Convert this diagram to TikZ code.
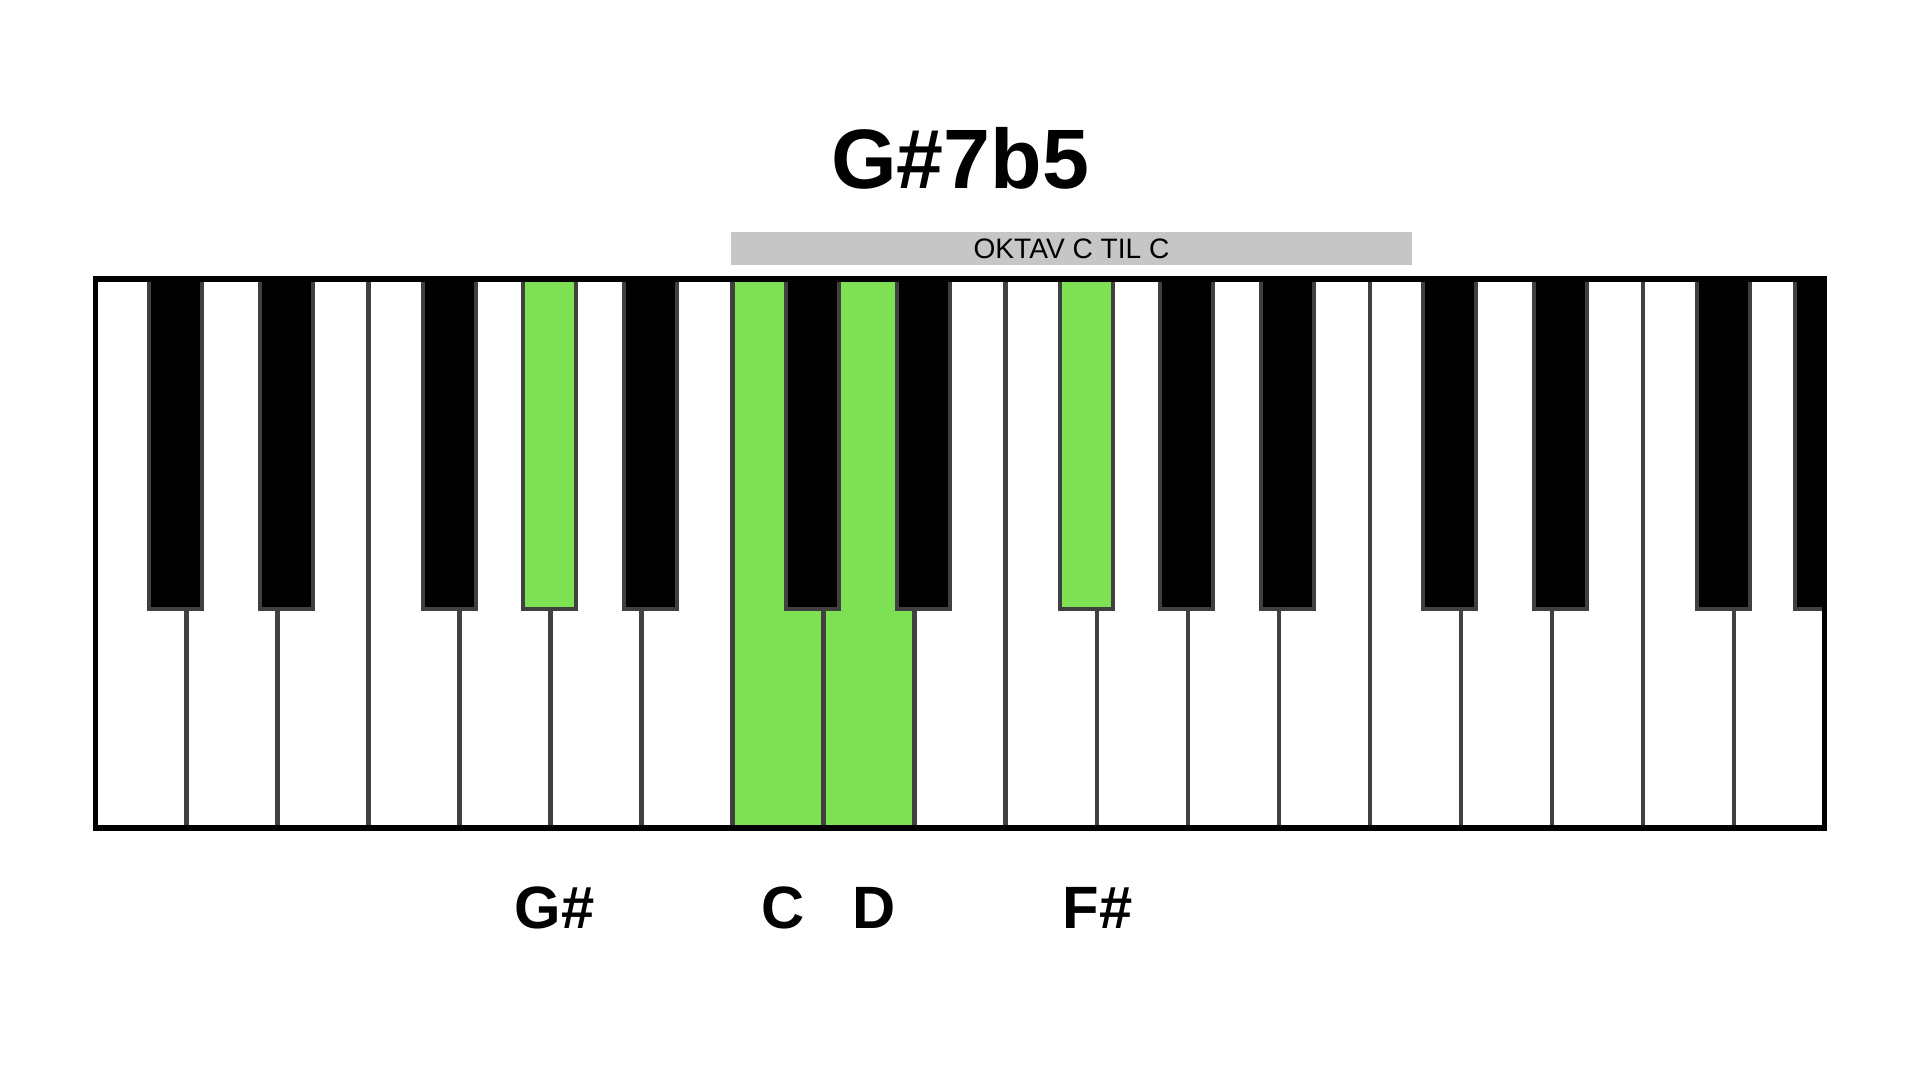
\documentclass[tikz,border=0pt]{standalone}
\usepackage{fontspec}
\setmainfont{Liberation Sans}
\definecolor{keygreen}{RGB}{126,225,83}
\definecolor{keyline}{RGB}{64,64,64}
\definecolor{bargray}{RGB}{198,198,198}
\tikzset{
  whitekey/.style={draw=keyline, line width=1.15pt, fill=white, minimum width=0.91cm,
    minimum height=5.49cm, inner sep=0pt, outer sep=0pt, anchor=south west},
  blackkey/.style={draw=keyline, line width=1.15pt, minimum width=0.535cm,
    minimum height=3.296cm, inner sep=0pt, outer sep=0pt, anchor=north},
  chordtitle/.style={font=\fontsize{24}{29}\selectfont\bfseries},
  octavebar/.style={fill=bargray, minimum width=6.81cm, minimum height=0.33cm,
    inner sep=0pt, font=\fontsize{8}{10}\selectfont},
  notelabel/.style={font=\fontsize{17}{20}\selectfont\bfseries, xshift=0.5mm}
}
\begin{document}
\begin{tikzpicture}
    \useasboundingbox[fill=white] (0,0) rectangle (19.2,10.8);
    \node[chordtitle] (chord) at (9.6,9.22) {G\#7b5};
    \node[octavebar] (octave) at (10.715,8.31) {OKTAV C TIL C};
    \foreach \i in {0,...,6,9,10,...,18}
    \node[whitekey] (w\i) at (0.955+\i*0.91,2.52) {};
    \foreach \i in {7,8}
    \node[whitekey, fill=keygreen] (w\i) at (0.955+\i*0.91,2.52) {};
    \begin{scope}
    \clip (w0.south west) rectangle (w18.north east);
    \foreach \n/\d/\c [count=\k] in {1/-0.11/black, 2/0.09/black, 4/-0.1/black,
        5/-0.01/keygreen, 6/0.09/black, 8/-0.11/black, 9/0.09/black, 11/-0.1/keygreen,
        12/-0.01/black, 13/0.09/black, 15/-0.11/black, 16/0.09/black, 18/-0.1/black, 19/-0.03/black}
    \node[blackkey, fill=\c] (b\k) at (0.955+\n*0.91+\d,8.01) {};
    \end{scope}
    \draw[line width=1.6pt] (w0.south west) rectangle (w18.north east);
    \node[notelabel] (gsharp) at (b4 |- 0,1.72) {G\#};
    \node[notelabel] (c) at (w7 |- 0,1.72) {C};
    \node[notelabel] (d) at (w8 |- 0,1.72) {D};
    \node[notelabel, xshift=0.6mm] (fsharp) at (b8 |- 0,1.72) {F\#};
\end{tikzpicture}
\end{document}
